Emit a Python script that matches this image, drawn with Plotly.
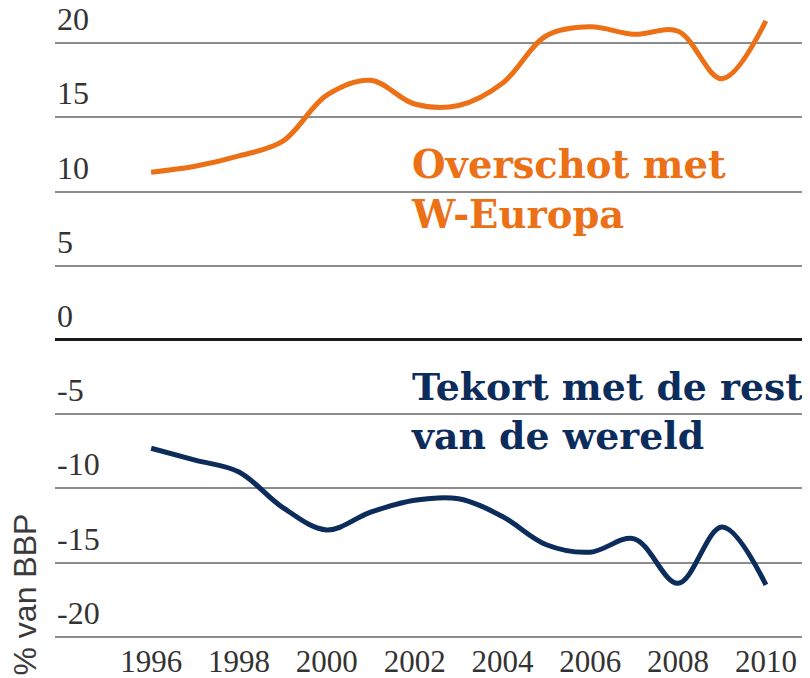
import plotly.graph_objects as go

years = list(range(1996, 2011))
overschot_w_europa = [11.3, 11.7, 12.4, 13.4, 16.5, 17.5, 15.9, 15.8, 17.3, 20.5, 21.1, 20.6, 20.8, 17.6, 21.5]
tekort_rest_wereld = [-7.3, -8.1, -8.9, -11.3, -12.8, -11.6, -10.8, -10.7, -11.9, -13.8, -14.3, -13.4, -16.4, -12.6, -16.5]

x_tick_vals = list(range(1996, 2011, 2))
y_tick_vals = [-20, -15, -10, -5, 0, 5, 10, 15, 20]

ORANGE = "#EB7016"
NAVY = "#0C2C5C"
TICK_FONT = dict(family="Liberation Serif", size=32, color="#333333")

fig = go.Figure()
fig.add_trace(go.Scatter(x=years, y=overschot_w_europa, mode="lines",
                         line=dict(color=ORANGE, width=5, shape="spline", smoothing=1.0),
                         hoverinfo="skip"))
fig.add_trace(go.Scatter(x=years, y=tekort_rest_wereld, mode="lines",
                         line=dict(color=NAVY, width=5, shape="spline", smoothing=1.0),
                         hoverinfo="skip"))

# y tick labels sit above their grid lines, left-aligned inside the plot
for v in y_tick_vals:
    fig.add_annotation(x=0, xref="paper", y=v, yref="y", text=str(v),
                       xanchor="left", yanchor="middle", xshift=0, yshift=24,
                       showarrow=False, font=TICK_FONT)

fig.add_annotation(x=2001.88, y=10.15, xref="x", yref="y", xanchor="left", yanchor="middle",
                   text="Overschot met<br>W-Europa", showarrow=False, align="left",
                   font=dict(family="DejaVu Serif", size=38.5, color=ORANGE, weight="bold"))
fig.add_annotation(x=2001.88, y=-4.85, xref="x", yref="y", xanchor="left", yanchor="middle",
                   text="Tekort met de rest<br>van de wereld", showarrow=False, align="left",
                   font=dict(family="DejaVu Serif", size=37.8, color=NAVY, weight="bold"))
fig.add_annotation(x=-0.04, y=0.072, xref="paper", yref="paper", xanchor="center", yanchor="middle",
                   text="% van BBP", textangle=-90, showarrow=False,
                   font=dict(family="Liberation Sans", size=32, color="#3a3a3a"))

fig.update_layout(
    width=802, height=670,
    margin=dict(l=47, r=5, t=0, b=38),
    paper_bgcolor="white", plot_bgcolor="white",
    showlegend=False,
    xaxis=dict(range=[1993.81, 2010.89], tickvals=x_tick_vals,
               ticktext=[str(v) for v in x_tick_vals],
               showgrid=False, zeroline=False, showline=False, ticks="", ticklen=0,
               automargin=False,
               tickfont=dict(family="Liberation Serif", size=31, color="#333333")),
    yaxis=dict(range=[-20.22, 22.37], tickvals=y_tick_vals,
               showticklabels=False,
               showgrid=True, gridcolor="#8c8c8c", gridwidth=2,
               zeroline=True, zerolinecolor="#1a1a1a", zerolinewidth=3,
               showline=False, ticks="", automargin=False),
)

fig.write_html("out.html")
